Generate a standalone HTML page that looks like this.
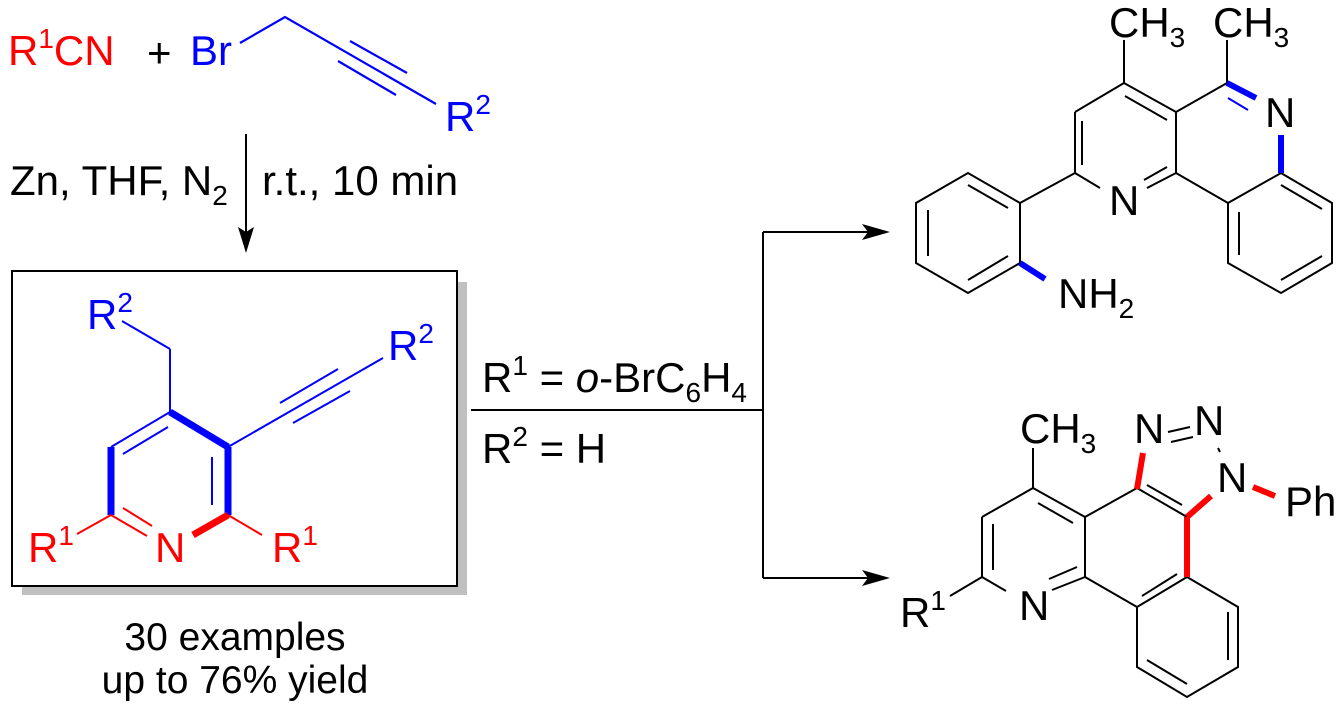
<!DOCTYPE html>
<html><head><meta charset="utf-8"><style>
html,body{margin:0;padding:0;background:#fff;}
svg{display:block;}
text{font-family:"Liberation Sans",Arial,sans-serif;font-size:42px;}
.s{font-size:28px;}
.c{font-size:39px;}
</style></head><body>
<svg width="1344" height="717" viewBox="0 0 1344 717" xmlns="http://www.w3.org/2000/svg">
<!-- reactants -->
<text x="8" y="65" fill="#f00">R<tspan class="s" dy="-17">1</tspan><tspan dy="17">CN</tspan></text>
<text x="147" y="67" fill="#000">+</text>
<text x="190" y="65" fill="#00f">Br</text>
<g stroke="#00f" stroke-width="2.2" fill="none">
<polyline points="240,43 285,17 436,104"/>
<line x1="350" y1="41" x2="407" y2="73"/>
<line x1="338" y1="61" x2="396" y2="95"/>
</g>
<text x="445" y="131" fill="#00f">R<tspan class="s" dy="-17">2</tspan></text>
<!-- down arrow -->
<line x1="246" y1="134" x2="246" y2="235" stroke="#000" stroke-width="2"/>
<polygon points="246,253 238,227 246,232 254,227" fill="#000"/>
<text x="10" y="195">Zn, THF, N<tspan class="s" dy="10">2</tspan></text>
<text x="262" y="195">r.t., 10 min</text>
<!-- box -->
<rect x="22" y="282" width="445" height="313" fill="#c0c0c0"/>
<rect x="12" y="271" width="445" height="315" fill="#fff" stroke="#000" stroke-width="2"/>
<g fill="none" stroke-linecap="butt">
<g stroke="#00f" stroke-width="2">
<line x1="170" y1="412" x2="170" y2="349"/>
<line x1="170" y1="349" x2="122" y2="321"/>
<line x1="170" y1="412" x2="111" y2="447"/>
<line x1="123" y1="454" x2="168" y2="427"/>
<line x1="212" y1="457" x2="212" y2="505"/>
<line x1="228" y1="447" x2="383" y2="358"/>
<line x1="280" y1="403" x2="338" y2="369"/>
<line x1="293" y1="423" x2="350" y2="391"/>
</g>
<g stroke="#00f" stroke-width="7">
<line x1="170" y1="412" x2="228" y2="447"/>
<line x1="228" y1="447" x2="228" y2="515"/>
<line x1="111" y1="447" x2="111" y2="515"/>
</g>
<g stroke="#f00" stroke-width="2">
<line x1="111" y1="515" x2="147" y2="536"/>
<line x1="123" y1="508" x2="152" y2="526"/>
<line x1="111" y1="515" x2="77" y2="534"/>
<line x1="228" y1="515" x2="262" y2="535"/>
</g>
<line x1="228" y1="515" x2="193" y2="535" stroke="#f00" stroke-width="7"/>
</g>
<text x="87" y="329" fill="#00f">R<tspan class="s" dy="-17">2</tspan></text>
<text x="388" y="360" fill="#00f">R<tspan class="s" dy="-17">2</tspan></text>
<text x="28" y="562" fill="#f00">R<tspan class="s" dy="-17">1</tspan></text>
<text x="155" y="562" fill="#f00">N</text>
<text x="272" y="562" fill="#f00">R<tspan class="s" dy="-17">1</tspan></text>
<text class="c" x="235" y="650" text-anchor="middle">30 examples</text>
<text class="c" x="235" y="693" text-anchor="middle">up to 76% yield</text>
<!-- branch arrows -->
<g stroke="#000" stroke-width="2" fill="none">
<line x1="471" y1="410" x2="763" y2="410"/>
<line x1="763" y1="232" x2="763" y2="578"/>
<line x1="763" y1="232" x2="870" y2="232"/>
<line x1="763" y1="578" x2="870" y2="578"/>
</g>
<polygon points="890,232 862,224 868,232 862,240" fill="#000"/>
<polygon points="890,578 862,570 868,578 862,586" fill="#000"/>
<text x="482" y="392">R<tspan class="s" dy="-17">1</tspan><tspan dy="17"> = </tspan><tspan font-style="italic">o</tspan>-BrC<tspan class="s" dy="10">6</tspan><tspan dy="-10">H</tspan><tspan class="s" dy="10">4</tspan></text>
<text x="482" y="463">R<tspan class="s" dy="-17">2</tspan><tspan dy="17"> = H</tspan></text>
<!-- top product -->
<g stroke="#000" stroke-width="2" fill="none">
<line x1="1124" y1="40" x2="1124" y2="83"/>
<line x1="1124" y1="83" x2="1075" y2="112"/>
<line x1="1075" y1="112" x2="1075" y2="173"/>
<line x1="1082" y1="121" x2="1082" y2="165"/>
<line x1="1075" y1="173" x2="1100" y2="188"/>
<line x1="1147" y1="188" x2="1176" y2="173"/>
<line x1="1144" y1="180" x2="1167" y2="167"/>
<line x1="1176" y1="173" x2="1176" y2="112"/>
<line x1="1176" y1="112" x2="1124" y2="83"/>
<line x1="1167" y1="120" x2="1125" y2="96"/>
<line x1="1176" y1="112" x2="1227" y2="83"/>
<line x1="1227" y1="83" x2="1227" y2="40"/>
<polygon points="1281,173 1332,203 1332,263 1281,293 1228,263 1228,203"/>
<line x1="1176" y1="173" x2="1228" y2="203"/>
<line x1="1281" y1="185" x2="1322" y2="209"/>
<line x1="1239" y1="212" x2="1239" y2="255"/>
<line x1="1281" y1="280" x2="1322" y2="256"/>
<line x1="1075" y1="173" x2="1020" y2="203"/>
<polygon points="1020,203 968,173 916,203 916,263 968,293 1020,263"/>
<line x1="968" y1="185" x2="1008" y2="208"/>
<line x1="928" y1="210" x2="928" y2="256"/>
<line x1="968" y1="280" x2="1008" y2="256"/>
</g>
<g stroke="#00f" fill="none">
<line x1="1227" y1="83" x2="1256" y2="98" stroke-width="6"/>
<line x1="1228" y1="98" x2="1248" y2="110" stroke-width="2"/>
<line x1="1281" y1="135" x2="1281" y2="173" stroke-width="6"/>
<line x1="1020" y1="263" x2="1045" y2="279" stroke-width="6"/>
</g>
<text x="1109" y="37">CH<tspan class="s" dy="10">3</tspan></text>
<text x="1213" y="37">CH<tspan class="s" dy="10">3</tspan></text>
<text x="1109" y="215">N</text>
<text x="1265" y="127">N</text>
<text x="1058" y="308">NH<tspan class="s" dy="10">2</tspan></text>
<!-- bottom product -->
<g stroke="#000" stroke-width="2" fill="none">
<line x1="1033" y1="448" x2="1033" y2="488"/>
<line x1="1033" y1="488" x2="982" y2="517"/>
<line x1="982" y1="517" x2="982" y2="577"/>
<line x1="993" y1="524" x2="993" y2="570"/>
<line x1="982" y1="577" x2="950" y2="596"/>
<line x1="982" y1="577" x2="1006" y2="591"/>
<line x1="1052" y1="590" x2="1085" y2="577"/>
<line x1="1049" y1="579" x2="1077" y2="567"/>
<line x1="1085" y1="577" x2="1085" y2="517"/>
<line x1="1085" y1="517" x2="1033" y2="488"/>
<line x1="1073" y1="523" x2="1038" y2="503"/>
<line x1="1085" y1="517" x2="1137" y2="488"/>
<line x1="1137" y1="488" x2="1187" y2="517"/>
<line x1="1147" y1="485" x2="1182" y2="505"/>
<line x1="1168" y1="432" x2="1190" y2="427"/>
<line x1="1171" y1="442" x2="1193" y2="437"/>
<line x1="1218" y1="448" x2="1220" y2="452"/>
<line x1="1187" y1="577" x2="1137" y2="607"/>
<line x1="1142" y1="596" x2="1177" y2="574"/>
<line x1="1137" y1="607" x2="1085" y2="577"/>
<polyline points="1187,577 1238,607 1238,667 1187,697 1137,667 1137,607"/>
<line x1="1228" y1="612" x2="1228" y2="660"/>
<line x1="1147" y1="660" x2="1187" y2="684"/>
</g>
<g stroke="#f00" stroke-width="6" fill="none">
<line x1="1137" y1="489" x2="1143" y2="453"/>
<line x1="1187" y1="517" x2="1211" y2="496"/>
<line x1="1253" y1="487" x2="1275" y2="496"/>
<line x1="1187" y1="517" x2="1187" y2="577"/>
</g>
<text x="1020" y="443">CH<tspan class="s" dy="10">3</tspan></text>
<text x="1134" y="443">N</text>
<text x="1194" y="435">N</text>
<text x="1217" y="492">N</text>
<text x="1285" y="516">Ph</text>
<text x="900" y="627">R<tspan class="s" dy="-17">1</tspan></text>
<text x="1019" y="620">N</text>
</svg>
</body></html>
